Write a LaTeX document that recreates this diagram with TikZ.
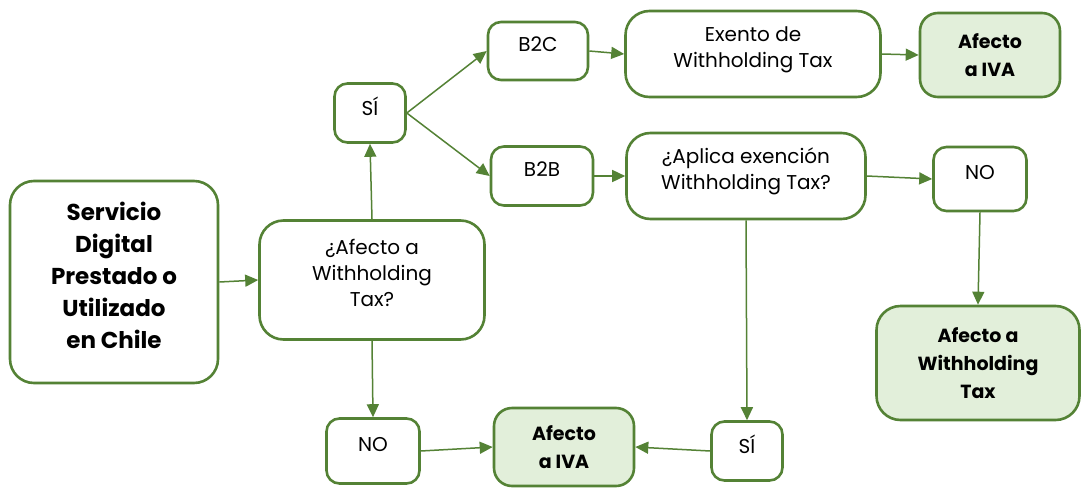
\documentclass[tikz,border=0pt]{standalone}
\usepackage{fontspec}
\setmainfont{Poppins}
\usepackage{tikz}
\usetikzlibrary{arrows.meta}
\usetikzlibrary{positioning}
\definecolor{leaf}{HTML}{548235}
\definecolor{leaflight}{HTML}{E2EFDA}

\begin{document}
\begin{tikzpicture}[x=1pt,
                    y=-1pt,
                    -{Triangle[length=13pt,width=12pt]},
                    draw=leaf,
                    line width=1.5pt,
                    plain/.style={rectangle,draw=leaf,line width=2.6pt,fill=white,rounded corners=13pt,
                                  inner sep=0pt,align=center,font=\fontsize{20}{26}\selectfont},
                    box/.style={plain,text depth=14pt},
                    bigbox/.style={box,rounded corners=24pt},
                    goal/.style={plain,fill=leaflight,font=\fontsize{19}{28}\selectfont\bfseries},
                    %pbox/.style={rectangle, draw, minimum width=2.2cm}
                    ]
  \fill[white] (0,0) rectangle (1081,486);
  \node[bigbox, minimum width=208pt, minimum height=202pt, font=\fontsize{23}{32}\selectfont\bfseries] (srv) at (114,282)
       {Servicio\\ Digital\\ Prestado o\\ Utilizado\\ en Chile};
  \node[bigbox, minimum width=225pt, minimum height=119pt] (q1) at (372,280) {¿Afecto a\\ Withholding\\ Tax?};
  \node[box, minimum width=71pt, minimum height=59pt] (si1) at (370,113) {SÍ};
  \node[box, minimum width=100pt, minimum height=58pt] (b2c) at (538,51) {B2C};
  \node[box, minimum width=102pt, minimum height=59pt] (b2b) at (542,176) {B2B};
  \node[bigbox, minimum width=255pt, minimum height=86pt] (exe) at (753,54) {Exento de\\ Withholding Tax};
  \node[goal, rounded corners=18pt, minimum width=140pt, minimum height=84pt] (iva1) at (990,55) {Afecto\\ a IVA};
  \node[bigbox, minimum width=239pt, minimum height=86pt] (apl) at (746,176) {¿Aplica exención\\ Withholding Tax?};
  \node[box, minimum width=93pt, minimum height=64pt] (no1) at (980,179) {NO};
  \node[goal, rounded corners=24pt, minimum width=203pt, minimum height=114pt] (awt) at (978,363) {Afecto a\\ Withholding\\ Tax};
  \node[box, minimum width=93pt, minimum height=65pt] (no2) at (373,451) {NO};
  \node[goal, rounded corners=18pt, minimum width=140pt, minimum height=78pt] (iva2) at (564,447) {Afecto\\ a IVA};
  \node[box, minimum width=71pt, minimum height=59pt] (si2) at (747,451) {SÍ};
  \draw (srv.east) -- (q1.west);
  \draw (q1.north) -- (si1.south);
  \draw (si1.east) -- (b2c.west);
  \draw (si1.east) -- (b2b.west);
  \draw (b2c.east) -- (exe.west);
  \draw (b2b.east) -- (apl.west);
  \draw (exe.east) -- (iva1.west);
  \draw (apl.east) -- (no1.west);
  \draw (no1.south) -- (awt.north);
  \draw (apl.south) -- (si2.north);
  \draw (q1.south) -- (no2.north);
  \draw (no2.east) -- (iva2.west);
  \draw (si2.west) -- (iva2.east);
\end{tikzpicture}
\end{document}
